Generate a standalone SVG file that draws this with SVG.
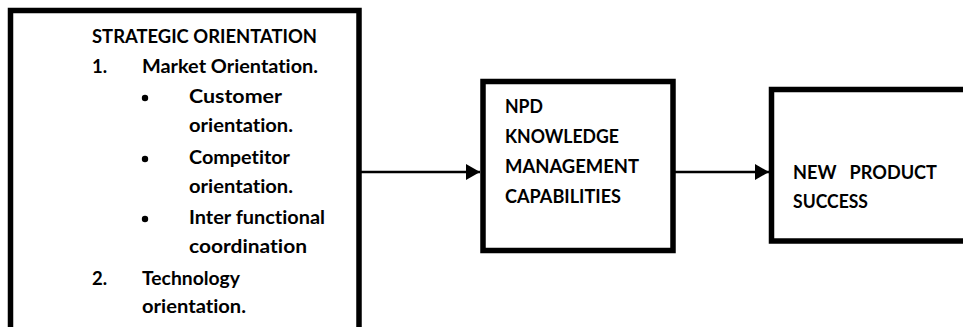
<svg xmlns="http://www.w3.org/2000/svg" width="963" height="327" viewBox="0 0 963 327">
  <style>
    .box { fill: #fff; stroke: #000; stroke-width: 5.5; }
    .t { font-family: Lato, "Open Sans", "Liberation Sans", sans-serif; font-weight: 700; font-size: 18.5px; fill: #000; font-variant-ligatures: none; }
    .conn { stroke: #000; stroke-width: 2.5; fill: none; }
  </style>
  <defs>
    <marker id="arrow" markerWidth="14" markerHeight="16" refX="14" refY="8" orient="auto" markerUnits="userSpaceOnUse">
      <path d="M0,0 L14,8 L0,16 Z" fill="#000"/>
    </marker>
  </defs>
  <rect width="963" height="327" fill="#fff"/>

  <g id="strategic-orientation">
    <rect class="box" x="10.5" y="10.5" width="348.5" height="330"/>
    <text class="t" x="92" y="43" textLength="225" lengthAdjust="spacingAndGlyphs">STRATEGIC ORIENTATION</text>
    <text class="t" x="92" y="73">1.</text>
    <text class="t" x="142" y="73" textLength="176" lengthAdjust="spacingAndGlyphs">Market Orientation.</text>
    <circle cx="145" cy="98" r="3.2"/>
    <text class="t" x="189" y="103" textLength="93" lengthAdjust="spacingAndGlyphs">Customer</text>
    <text class="t" x="189" y="132" textLength="104" lengthAdjust="spacingAndGlyphs">orientation.</text>
    <circle cx="145" cy="159" r="3.2"/>
    <text class="t" x="189" y="164" textLength="101" lengthAdjust="spacingAndGlyphs">Competitor</text>
    <text class="t" x="189" y="193" textLength="104" lengthAdjust="spacingAndGlyphs">orientation.</text>
    <circle cx="145" cy="219" r="3.2"/>
    <text class="t" x="189" y="224" textLength="136" lengthAdjust="spacingAndGlyphs">Inter functional</text>
    <text class="t" x="189" y="253" textLength="118" lengthAdjust="spacingAndGlyphs">coordination</text>
    <text class="t" x="92" y="285">2.</text>
    <text class="t" x="142" y="285" textLength="98" lengthAdjust="spacingAndGlyphs">Technology</text>
    <text class="t" x="142" y="313" textLength="104" lengthAdjust="spacingAndGlyphs">orientation.</text>
  </g>

  <g id="npd-km">
    <rect class="box" x="483" y="81.5" width="190" height="169"/>
    <text class="t" x="505" y="113" textLength="38" lengthAdjust="spacingAndGlyphs">NPD</text>
    <text class="t" x="505" y="143" textLength="114" lengthAdjust="spacingAndGlyphs">KNOWLEDGE</text>
    <text class="t" x="505" y="173" textLength="134" lengthAdjust="spacingAndGlyphs">MANAGEMENT</text>
    <text class="t" x="505" y="203" textLength="116" lengthAdjust="spacingAndGlyphs">CAPABILITIES</text>
  </g>

  <g id="new-product-success">
    <rect class="box" x="771.5" y="89.5" width="220" height="151.5"/>
    <text class="t" x="793" y="179" textLength="144" lengthAdjust="spacingAndGlyphs" xml:space="preserve">NEW   PRODUCT</text>
    <text class="t" x="793" y="208" textLength="75" lengthAdjust="spacingAndGlyphs">SUCCESS</text>
  </g>

  <g id="connectors">
    <line class="conn" x1="361" y1="172" x2="480" y2="172" marker-end="url(#arrow)"/>
    <line class="conn" x1="675" y1="172" x2="769" y2="172" marker-end="url(#arrow)"/>
  </g>
</svg>
